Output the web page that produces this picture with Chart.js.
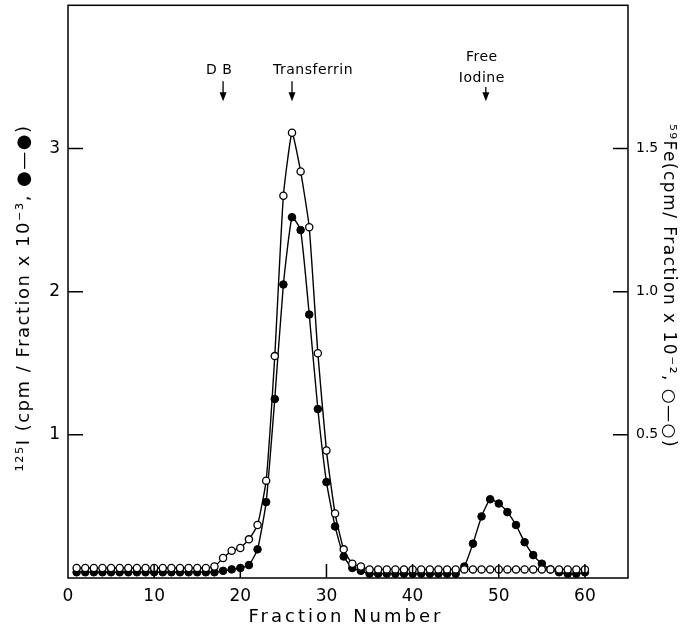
<!DOCTYPE html>
<html>
<head>
<meta charset="utf-8">
<script src="https://cdn.jsdelivr.net/npm/chart.js@4.4.1/dist/chart.umd.min.js"></script>
<style>
body{margin:0;background:#fff;}
#wrap{width:690px;height:629px;}
</style>
</head>
<body>
<div id="wrap"><canvas id="dataChart" width="690" height="629"></canvas></div>
<script>
// fraction numbers off the column
const fractions = [1,2,3,4,5,6,7,8,9,10,11,12,13,14,15,16,17,18,19,20,
    21,22,23,24,25,26,27,28,29,30,31,32,33,34,35,36,37,38,39,40,
    41,42,43,44,45,46,47,48,49,50,51,52,53,54,55,56,57,58,59,60];

// 125I, cpm/fraction x 10^-3 (left axis)
const iodineCounts = [0.04,0.04,0.04,0.04,0.04,0.04,0.04,0.04,0.04,0.04,
    0.04,0.04,0.04,0.04,0.04,0.04,0.04,0.05,0.06,0.07,
    0.09,0.20,0.53,1.25,2.05,2.52,2.43,1.84,1.18,0.67,
    0.36,0.15,0.07,0.05,0.03,0.03,0.03,0.03,0.03,0.03,
    0.03,0.03,0.03,0.03,0.03,0.08,0.24,0.43,0.55,0.52,
    0.46,0.37,0.25,0.16,0.10,0.06,0.04,0.03,0.03,0.04];

// 59Fe, cpm/fraction x 10^-2 (right axis)
const ironCounts = [0.035,0.035,0.035,0.035,0.035,0.035,0.035,0.035,0.035,0.035,
    0.035,0.035,0.035,0.035,0.035,0.035,0.04,0.07,0.095,0.105,
    0.135,0.185,0.34,0.775,1.335,1.555,1.42,1.225,0.785,0.445,
    0.225,0.10,0.05,0.04,0.03,0.03,0.03,0.03,0.03,0.03,
    0.03,0.03,0.03,0.03,0.03,0.03,0.03,0.03,0.03,0.03,
    0.03,0.03,0.03,0.03,0.03,0.03,0.03,0.03,0.03,0.03];

const xTickValues = [0,10,20,30,40,50,60];
const leftTickValues = [1,2,3];
const rightTickValues = [0.5,1.0,1.5];

// elution markers
const markerLabels = [["D B"],["Transferrin"],["Free","Iodine"]];
const markerFractions = [18,26,48.5];

const FONT = "'DejaVu Sans', sans-serif";

let toPoints = (ys) => fractions.map((f,i) => ({x:f, y:ys[i]}));

// fixed axis sizes, and no extra room reserved for end labels
let fixSize = (w, h) => function(s){
    if(w != null) s.width = w;
    if(h != null) s.height = h;
    s.paddingTop = 0; s.paddingBottom = 0;
    s.paddingLeft = 0; s.paddingRight = 0;
};

let decorations = {
    id:"decorations",
    afterDraw(chart){
        let ctx = chart.ctx;
        let a = chart.chartArea;
        let sx = chart.scales.x, sl = chart.scales.yLeft, sr = chart.scales.yRight;
        ctx.save();
        ctx.strokeStyle = "#000";
        ctx.fillStyle = "#000";
        ctx.lineWidth = 1.5;
        // box round the plot
        ctx.strokeRect(a.left, a.top, a.right-a.left, a.bottom-a.top);

        // tick marks point inward
        ctx.beginPath();
        for(let v of xTickValues){
            if(v==0) continue;
            let px = sx.getPixelForValue(v);
            ctx.moveTo(px, a.bottom); ctx.lineTo(px, a.bottom-14);
        }
        for(let v of leftTickValues){
            let py = sl.getPixelForValue(v);
            ctx.moveTo(a.left, py); ctx.lineTo(a.left+15, py);
        }
        for(let v of rightTickValues){
            let py = sr.getPixelForValue(v);
            ctx.moveTo(a.right, py); ctx.lineTo(a.right-15, py);
        }
        ctx.stroke();

        // axis titles
        ctx.textAlign = "center";
        ctx.textBaseline = "middle";
        ctx.font = "18px " + FONT;
        ctx.letterSpacing = "3px";
        ctx.fillText("Fraction Number", 346, 617);

        ctx.font = "18px " + FONT;
        ctx.letterSpacing = "1.5px";
        ctx.save();
        ctx.translate(24, 298);
        ctx.rotate(-Math.PI/2);
        ctx.fillText("\u00B9\u00B2\u2075I (cpm / Fraction x 10\u207B\u00B3, \u25CF\u2014\u25CF)", 0, 0);
        ctx.restore();

        ctx.font = "17px " + FONT;
        ctx.letterSpacing = "1.5px";
        ctx.save();
        ctx.translate(668, 286);
        ctx.rotate(Math.PI/2);
        ctx.fillText("\u2075\u2079Fe(cpm/ Fraction x 10\u207B\u00B2, \u25CB\u2014\u25CB)", 0, 0);
        ctx.restore();

        // arrows with their labels
        let labelShift = [-4, 21, -4];
        let labelBottom = [70, 70, 78];
        ctx.font = "14px " + FONT;
        ctx.letterSpacing = "0.5px";
        ctx.lineWidth = 1.3;
        markerFractions.forEach((f,i) => {
            let px = sx.getPixelForValue(f);
            let top = sl.getPixelForValue(3.47);
            let tip = sl.getPixelForValue(3.33);
            ctx.beginPath();
            ctx.moveTo(px, Math.max(top, labelBottom[i]+9)); ctx.lineTo(px, tip-6);
            ctx.stroke();
            ctx.beginPath();
            ctx.moveTo(px-3.5, tip-9); ctx.lineTo(px+3.5, tip-9); ctx.lineTo(px, tip);
            ctx.closePath();
            ctx.fill();
            let lines = markerLabels[i];
            lines.forEach((t,j) => {
                let ly = labelBottom[i] - (lines.length-1-j)*21;
                ctx.fillText(t, px+labelShift[i], ly);
            });
        });
        ctx.restore();
    }
};

let ctx = document.getElementById("dataChart").getContext("2d");
let chart = new Chart(ctx, {
    type: "line",
    data: {
        datasets: [
            {
                label: "59Fe",
                data: toPoints(ironCounts),
                yAxisID: "yRight",
                borderColor: "#000",
                borderWidth: 1.4,
                pointRadius: 3.6,
                pointBorderWidth: 1.3,
                pointBackgroundColor: "#fff",
                pointBorderColor: "#000",
                tension: 0.15,
                order: 0
            },
            {
                label: "125I",
                data: toPoints(iodineCounts),
                yAxisID: "yLeft",
                borderColor: "#000",
                borderWidth: 1.4,
                pointRadius: 3.8,
                pointBorderWidth: 1,
                pointBackgroundColor: "#000",
                pointBorderColor: "#000",
                tension: 0.15,
                order: 1
            }
        ]
    },
    options: {
        responsive: false,
        animation: false,
        layout: { padding: { top: 5, left: 0, right: 0, bottom: 0 } },
        plugins: {
            legend: { display: false },
            tooltip: { enabled: false }
        },
        scales: {
            x: {
                type: "linear",
                min: 0,
                max: 65,
                afterFit: fixSize(null, 51),
                grid: { display: false, drawTicks: false },
                border: { display: false },
                ticks: {
                    stepSize: 10,
                    padding: 8,
                    color: "#000",
                    font: { family: FONT, size: 17 },
                    callback: (v) => xTickValues.includes(v) ? String(v) : ""
                }
            },
            yLeft: {
                position: "left",
                min: 0,
                max: 4,
                afterFit: fixSize(68, null),
                grid: { display: false, drawTicks: false },
                border: { display: false },
                ticks: {
                    stepSize: 1,
                    padding: 8,
                    color: "#000",
                    font: { family: FONT, size: 17 },
                    callback: (v) => leftTickValues.includes(v) ? String(v) : ""
                }
            },
            yRight: {
                position: "right",
                min: 0,
                max: 2,
                afterFit: fixSize(62, null),
                grid: { display: false, drawTicks: false },
                border: { display: false },
                ticks: {
                    stepSize: 0.5,
                    padding: 8,
                    color: "#000",
                    font: { family: FONT, size: 14 },
                    callback: (v) => rightTickValues.includes(v) ? v.toFixed(1) : ""
                }
            }
        }
    },
    plugins: [decorations]
});
</script>
</body>
</html>
